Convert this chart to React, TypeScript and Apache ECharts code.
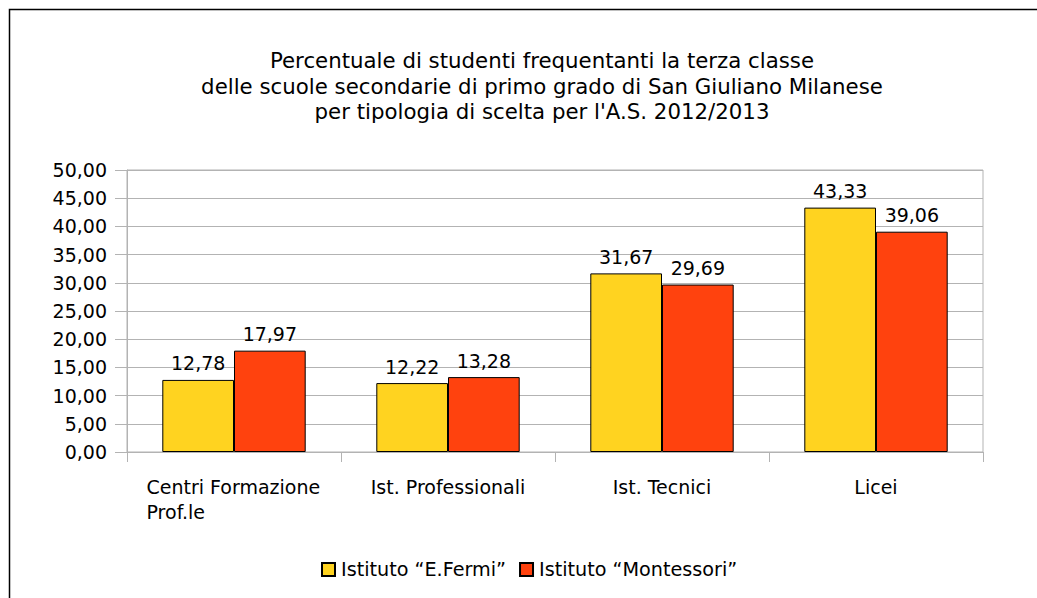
import React, { useEffect, useRef } from "react";
import * as echarts from "echarts";

const titleLines = [
  "Percentuale di studenti frequentanti la terza classe",
  "delle scuole secondarie di primo grado di San Giuliano Milanese",
  "per tipologia di scelta per l'A.S. 2012/2013",
];
const categories = ["Centri Formazione\nProf.le", "Ist. Professionali", "Ist. Tecnici", "Licei"];
const seriesNames = ["Istituto “E.Fermi”", "Istituto “Montessori”"];
const fermiValues = [12.78, 12.22, 31.67, 43.33];
const montessoriValues = [17.97, 13.28, 29.69, 39.06];
const yMin = 0;
const yMax = 50;
const yStep = 5;

const FONT = "DejaVu Sans";
const fmt = (v: number) => v.toFixed(2).replace(".", ",");

export default function App() {
  const ref = useRef<HTMLDivElement>(null);
  useEffect(() => {
    document.body.style.margin = "0";
    const chart = echarts.init(ref.current!, null, { renderer: "svg" });
    const labelStyle = {
      show: true,
      position: "top" as const,
      distance: 7,
      fontFamily: FONT,
      fontSize: 19,
      color: "#000",
      formatter: (p: any) => fmt(p.value),
    };
    chart.setOption({
      animation: false,
      backgroundColor: "#fff",
      textStyle: { fontFamily: FONT },
      graphic: [
        {
          type: "rect",
          shape: { x: 9.5, y: 9.5, width: 1200, height: 800 },
          style: { fill: "none", stroke: "#000", lineWidth: 1.5 },
          silent: true,
          z: -1,
        },
        {
          type: "text",
          x: 542,
          y: 47.5,
          style: {
            text: titleLines.join("\n"),
            fontFamily: FONT,
            fontSize: 21.3,
            lineHeight: 25.7,
            fill: "#000",
            align: "center",
            verticalAlign: "top",
          },
        },
      ],
      legend: {
        left: 321,
        top: 560,
        padding: 0,
        itemWidth: 13,
        itemHeight: 13,
        itemGap: 13,
        icon: "rect",
        textStyle: { fontFamily: FONT, fontSize: 19.2, color: "#000", padding: [0, 0, 0, 1] },
        data: seriesNames,
      },
      grid: {
        left: 127,
        right: 54,
        top: 170,
        bottom: 146,
        show: true,
        borderColor: "#b3b3b3",
        borderWidth: 1,
        containLabel: false,
      },
      xAxis: {
        type: "category",
        data: categories,
        axisLine: { lineStyle: { color: "#b3b3b3" } },
        axisTick: { show: true, length: 10, lineStyle: { color: "#b3b3b3" } },
        axisLabel: {
          interval: 0,
          margin: 22,
          fontFamily: FONT,
          fontSize: 19,
          color: "#000",
          lineHeight: 25.5,
          formatter: (v: string) =>
            v.includes("\n")
              ? v
                  .split("\n")
                  .map((s) => `{l|${s}}`)
                  .join("\n")
              : v,
          rich: {
            l: { width: 175, align: "left", fontFamily: FONT, fontSize: 19, color: "#000", lineHeight: 25.5 },
          },
        },
        splitLine: { show: false },
      },
      yAxis: {
        type: "value",
        min: yMin,
        max: yMax,
        interval: yStep,
        axisLine: { show: true, lineStyle: { color: "#b3b3b3" } },
        axisTick: { show: true, length: 12, lineStyle: { color: "#b3b3b3" } },
        axisLabel: {
          margin: 20,
          fontFamily: FONT,
          fontSize: 19,
          color: "#000",
          formatter: (v: number) => fmt(v),
        },
        splitLine: { show: true, lineStyle: { color: "#b3b3b3" } },
      },
      series: [
        {
          name: seriesNames[0],
          type: "bar",
          data: fermiValues,
          barGap: "0%",
          barCategoryGap: "33%",
          itemStyle: { color: "#FFD320", borderColor: "#000", borderWidth: 1 },
          label: labelStyle,
        },
        {
          name: seriesNames[1],
          type: "bar",
          data: montessoriValues,
          barGap: "0%",
          barCategoryGap: "33%",
          itemStyle: { color: "#FF420E", borderColor: "#000", borderWidth: 1 },
          label: labelStyle,
        },
      ],
    });
    return () => chart.dispose();
  }, []);
  return (
    <div
      ref={ref}
      style={{ position: "absolute", left: 0, top: 0, width: 1037, height: 598 }}
    />
  );
}
